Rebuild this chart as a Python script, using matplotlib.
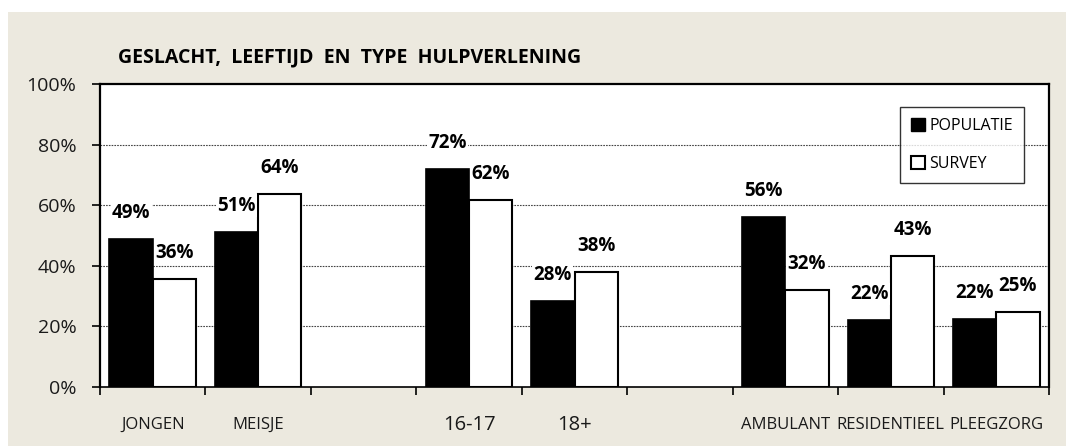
import numpy as np
import matplotlib.pyplot as plt
from matplotlib.patches import Rectangle, Patch

plt.rcParams['font.family'] = ['Open Sans', 'DejaVu Sans']

# categorieën (lege posities = ruimte tussen groepen)
categories = ['JONGEN', 'MEISJE', '', '16-17', '18+', '', 'AMBULANT', 'RESIDENTIEEL', 'PLEEGZORG']
positions = [0, 1, 3, 4, 6, 7, 8]          # posities met balken
populatie = [0.49, 0.513, 0.718, 0.284, 0.56, 0.221, 0.224]
survey = [0.356, 0.636, 0.618, 0.38, 0.32, 0.432, 0.248]
yticks = [0, 0.2, 0.4, 0.6, 0.8, 1.0]
ytick_labels = ['0%', '20%', '40%', '60%', '80%', '100%']

W, H = 1069, 447
fig = plt.figure(figsize=(W / 100, H / 100), dpi=100)
fig.patch.set_facecolor('white')

# beige achtergrond
fig.patches.append(Rectangle((8 / W, 1 / H), (1066 - 8) / W, (435 - 1) / H,
                             transform=fig.transFigure, facecolor='#ECE9DF',
                             edgecolor='none', zorder=-10))

ax = fig.add_axes([100 / W, 60 / H, (1049 - 100) / W, (387 - 84) / H])
ax.set_zorder(2)
ax.set_facecolor('white')

x = np.array(positions)
bw = 0.41
ax.bar(x - bw / 2, populatie, bw, color='black', edgecolor='black', linewidth=1.2, zorder=3)
ax.bar(x + bw / 2, survey, bw, color='white', edgecolor='black', linewidth=1.5, zorder=3)

# waardelabels
for xi, v in zip(x - bw / 2, populatie):
    ax.annotate(f'{round(v * 100)}%', xy=(xi, v), xytext=(0, 18.7), textcoords='offset points',
                ha='center', va='center', fontsize=13.5, fontweight='bold', color='black',
                bbox=dict(facecolor='white', edgecolor='none', pad=1), zorder=5)
for xi, v in zip(x + bw / 2, survey):
    ax.annotate(f'{round(v * 100)}%', xy=(xi, v), xytext=(0, 18.7), textcoords='offset points',
                ha='center', va='center', fontsize=13.5, fontweight='bold', color='black',
                bbox=dict(facecolor='white', edgecolor='none', pad=1), zorder=5)

ax.set_xlim(-0.5, len(categories) - 0.5)
ax.set_ylim(0, 1)

ax.set_yticks(yticks)
ax.set_yticklabels(ytick_labels, fontsize=14, color='#1a1a1a')
ax.tick_params(axis='y', length=6, width=1.2, pad=11, direction='out')

ax.set_xticks(range(len(categories)))
ax.set_xticklabels(categories, fontsize=12, color='#1a1a1a')
ax.set_xticks(np.arange(-0.5, len(categories)), minor=True)
ax.tick_params(axis='x', which='major', length=0, pad=27.4)
ax.tick_params(axis='x', which='minor', length=6, width=1.2, direction='out')
for lab in ax.get_xticklabels():
    lab.set_va('center')
    if lab.get_text() in ('16-17', '18+'):
        lab.set_fontsize(14.5)

# rasterlijnen
for yv in yticks[1:-1]:
    ax.axhline(yv, color='#444444', linewidth=0.8, linestyle=(0, (1.5, 1)), zorder=1)

for side in ['left', 'top', 'right']:
    ax.spines[side].set_linewidth(1.6)
ax.spines['bottom'].set_linewidth(1.2)

fig.text(118 / W, 1 - 57 / H, 'GESLACHT,  LEEFTIJD  EN  TYPE  HULPVERLENING',
         fontsize=14, fontweight='bold', ha='left', va='center')

handles = [Patch(facecolor='black', edgecolor='black'),
           Patch(facecolor='white', edgecolor='black', linewidth=1.5)]
leg = ax.legend(handles, ['POPULATIE', 'SURVEY'], loc='upper left',
                bbox_to_anchor=(900 / W, 1 - 107 / H), bbox_transform=fig.transFigure,
                fontsize=11.5, frameon=True, fancybox=False, handlelength=0.85,
                handleheight=0.85, handletextpad=0.3, labelspacing=1.35,
                borderpad=0.7, borderaxespad=0)
leg.get_frame().set_edgecolor('black')
leg.get_frame().set_linewidth(1.0)
leg.set_zorder(6)

fig.savefig('out.png', dpi=100)
